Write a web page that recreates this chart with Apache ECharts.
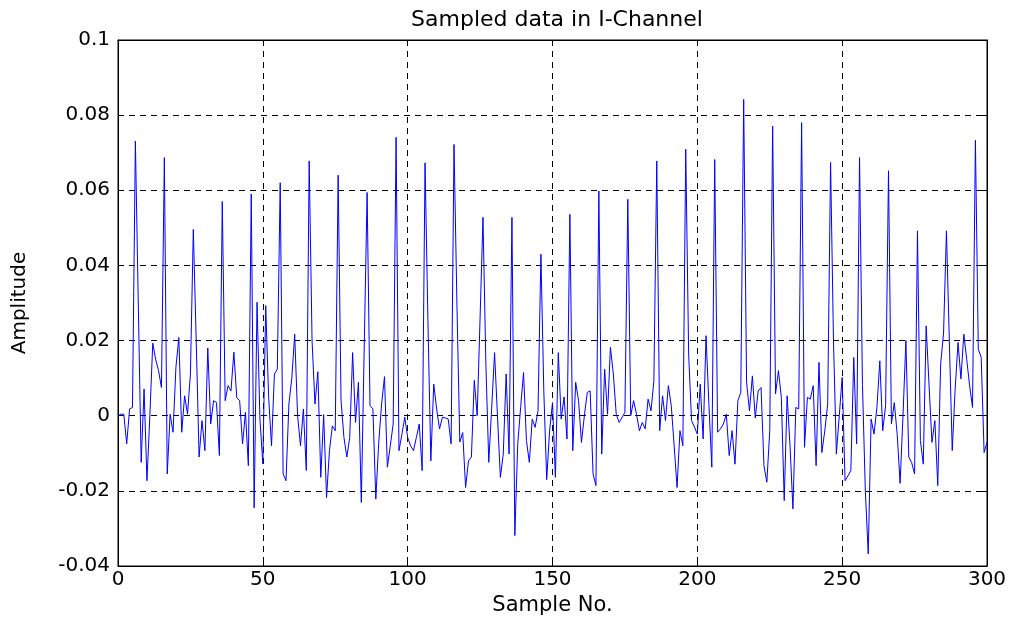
<!DOCTYPE html>
<html>
<head>
<meta charset="utf-8">
<script src="https://cdn.jsdelivr.net/npm/echarts@6/dist/echarts.min.js"></script>
<style>
html,body{margin:0;padding:0;background:#fff;}
#chart{width:1015px;height:624px;}
</style>
</head>
<body>
<div id="chart"></div>
<script>
// Sample index 0..300
const amplitude = [
  0, 0.0004, 0.0004, -0.0075, 0.0018, 0.0022, 0.0731, 0.03, -0.0124, 0.0071,
  -0.0173, 0, 0.0193, 0.015, 0.012, 0.0075, 0.0687, -0.0155, 0.0004, -0.0044,
  0.0129, 0.0208, -0.0044, 0.0053, 0.0004, 0.0111, 0.0496, 0.02, -0.011, -0.0013,
  -0.0093, 0.018, -0.0022, 0.004, 0.0035, -0.0106, 0.057, 0.004, 0.008, 0.0066,
  0.0169, 0.0048, 0.004, -0.0075, 0.0009, -0.0133, 0.059, -0.0245, 0.0302, -0.0009,
  -0.0128, 0.0293, 0.0049, -0.008, 0.0111, 0.0124, 0.062, -0.0155, -0.0173, 0.0031,
  0.010, 0.0217, 0, -0.008, 0.0018, -0.0146, 0.0678, 0.0199, 0.0031, 0.0117,
  -0.0164, 0.0003, -0.0218, -0.0093, -0.0027, -0.004, 0.064, 0.004, -0.0058, -0.011,
  -0.0058, 0.0168, -0.0018, 0.0089, -0.0231, 0.018, 0.0594, 0.0027, 0.0018, -0.0222,
  -0.0073, 0.0031, 0.0104, -0.0137, -0.008, -0.0022, 0.0741, -0.0093, -0.005, -0.0004,
  -0.0058, -0.008, -0.0093, -0.0058, -0.0022, -0.0146, 0.0673, 0.025, -0.012, 0.0084,
  0.0018, -0.0035, -0.0004, -0.0006, -0.0009, -0.0075, 0.0722, 0.03, -0.007, -0.0045,
  -0.0191, -0.012, -0.011, 0.0094, 0, 0.026, 0.0528, 0.0137, -0.0124, 0.002,
  0.0168, 0, -0.0164, -0.0102, 0.0111, -0.0102, 0.0528, -0.0319, -0.0075, 0.0022,
  0.0115, -0.0066, -0.0124, -0.0009, -0.0031, 0.0013, 0.043, 0.0066, -0.017, -0.004,
  0.0035, -0.0164, 0.0168, -0.0009, 0.005, -0.0062, 0.0536, -0.0093, 0.0089, 0.004,
  -0.0071, 0, 0.0062, 0.0066, -0.0155, -0.0186, 0.0598, -0.0102, 0.0124, 0.0004,
  0.0182, 0.0111, 0.0004, -0.0018, -0.0005, 0.0009, 0.0576, 0, 0.004, 0.0004,
  -0.004, -0.0018, -0.0035, 0.0044, 0.0013, 0.0093, 0.0678, -0.004, 0.0053, -0.0013,
  0.008, 0.0027, -0.008, -0.0191, -0.004, -0.008, 0.0709, 0.0164, -0.0013, -0.003,
  -0.0049, 0.0084, -0.0062, 0.0213, 0.003, -0.0137, 0.0682, -0.0044, -0.0035, -0.0022,
  0.0004, -0.0106, -0.004, -0.0129, 0.004, 0.0062, 0.0842, 0.0089, 0.0013, 0.0106,
  -0.0006, 0.0066, 0.0075, -0.0133, -0.0177, -0.004, 0.0771, 0.0058, 0.012, 0.0049,
  -0.0226, 0.0053, -0.008, -0.0248, 0.0022, 0.0018, 0.078, -0.0084, 0.0049, 0.0044,
  0.008, -0.0133, 0.0142, -0.0098, -0.004, 0.0031, 0.0674, 0.02, -0.0102, 0,
  0.0102, -0.0173, -0.016, -0.0146, 0.0155, -0.0075, 0.0687, 0.0084, -0.02, -0.0368,
  -0.0009, -0.0049, 0.0022, 0.0146, -0.004, 0.0027, 0.0652, -0.0022, 0.0035, -0.005,
  -0.018, 0, 0.02, -0.011, -0.0125, -0.0155, 0.0492, -0.0066, -0.0129, 0.0239,
  0.008, -0.0071, -0.0013, -0.0186, 0.0137, 0.022, 0.0492, 0.02, -0.0093, 0.007,
  0.0195, 0.0098, 0.0217, 0.015, 0.008, 0.0022, 0.0733, 0.0177, 0.0155, -0.0098,
  -0.0071
];
const titleText = 'Sampled data in I-Channel';
const xName = 'Sample No.';
const yName = 'Amplitude';
const xMin = 0, xMax = 300, xStep = 50;
const yMin = -0.04, yMax = 0.1, yStep = 0.02;

const seriesData = amplitude.map((v, i) => [i, v]);
const font = 'DejaVu Sans, Verdana, sans-serif';
const fmtY = v => String(Math.round(v * 100) / 100);

const chart = echarts.init(document.getElementById('chart'), null, {renderer: 'canvas'});
const dashed = {show: true, lineStyle: {color: '#000', width: 1, type: [6, 5]}};
chart.setOption({
  animation: false,
  backgroundColor: '#fff',
  title: {
    text: titleText, left: 552, top: 4, textAlign: 'center',
    textStyle: {fontFamily: font, fontSize: 22, fontWeight: 'normal', color: '#000'}
  },
  grid: {left: 118, right: 28, top: 40, bottom: 58, show: true, borderColor: '#000', borderWidth: 1},
  xAxis: [{
    type: 'value', min: xMin, max: xMax, interval: xStep,
    name: xName, nameLocation: 'middle', nameGap: 29,
    nameTextStyle: {fontFamily: font, fontSize: 21, color: '#000'},
    axisLine: {show: true, onZero: false, lineStyle: {color: '#000', width: 1}},
    axisTick: {show: true, inside: true, length: 6, lineStyle: {color: '#000'}},
    axisLabel: {fontFamily: font, fontSize: 20, color: '#000', margin: 4},
    splitLine: dashed
  }, {
    type: 'value', min: xMin, max: xMax, interval: xStep, position: 'top',
    axisLine: {show: true, onZero: false, lineStyle: {color: '#000', width: 1}},
    axisTick: {show: true, inside: true, length: 6, lineStyle: {color: '#000'}},
    axisLabel: {show: false}, splitLine: {show: false}
  }],
  yAxis: [{
    type: 'value', min: yMin, max: yMax, interval: yStep,
    name: yName, nameLocation: 'middle', nameGap: 88, nameRotate: 90,
    nameTextStyle: {fontFamily: font, fontSize: 20, color: '#000'},
    axisLine: {show: true, onZero: false, lineStyle: {color: '#000', width: 1}},
    axisTick: {show: true, inside: true, length: 6, lineStyle: {color: '#000'}},
    axisLabel: {fontFamily: font, fontSize: 20, color: '#000', margin: 8, formatter: fmtY},
    splitLine: dashed
  }, {
    type: 'value', min: yMin, max: yMax, interval: yStep, position: 'right',
    axisLine: {show: true, onZero: false, lineStyle: {color: '#000', width: 1}},
    axisTick: {show: true, inside: true, length: 6, lineStyle: {color: '#000'}},
    axisLabel: {show: false}, splitLine: {show: false}
  }],
  series: [{
    type: 'line', data: seriesData, xAxisIndex: 0, yAxisIndex: 0,
    showSymbol: false, symbol: 'none',
    lineStyle: {color: '#0000ff', width: 1},
    z: 5
  }]
});
</script>
</body>
</html>
